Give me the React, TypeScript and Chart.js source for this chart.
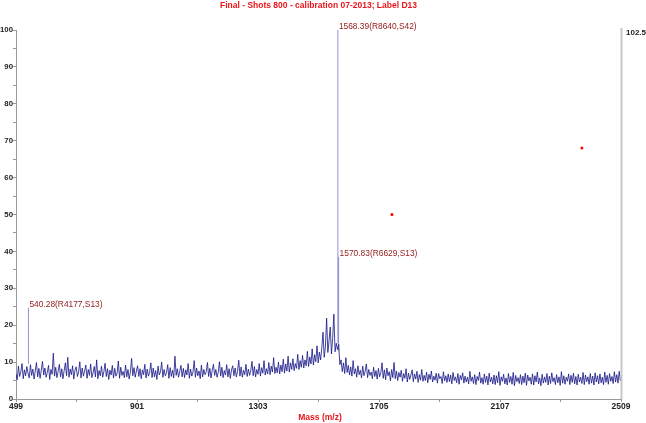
import React, { useEffect, useRef } from "react";
import { Chart, registerables } from "chart.js";

Chart.register(...registerables);

const TITLE = "Final - Shots 800 - calibration 07-2013; Label D13";
const X_TITLE = "Mass (m/z)";
const X_MIN = 499;
const X_MAX = 2509;
const X_TICK_STEP = 201;
const X_LABEL_STEP = 402;
const Y_MAX = 100;
const RIGHT_LABEL = "102.5";

const MASS_START = 499;
const MASS_STEP = 4;
const INTENSITY = [
  6.8, 5.2, 8.9, 6.1, 7.4, 9.6, 5.5, 7.9, 6.3, 8.8, 7.0, 5.7, 9.3, 6.4, 8.1, 5.4, 7.6, 9.9, 6.0, 8.3,
  5.6, 7.8, 10.2, 6.5, 8.4, 5.9, 7.2, 9.1, 5.3, 8.0, 6.7, 12.4, 6.2, 8.6, 5.8, 7.5, 9.4, 6.0, 8.2, 5.5,
  7.7, 9.8, 6.3, 11.3, 5.9, 8.1, 6.6, 9.0, 5.4, 7.9, 8.7, 6.1, 7.3, 10.1, 5.7, 8.4, 6.2, 7.6, 9.2, 5.6,
  8.0, 6.4, 9.5, 5.8, 7.1, 8.8, 6.0, 10.6, 5.5, 7.7, 6.3, 8.9, 5.9, 7.4, 9.7, 6.1, 8.2, 5.3, 7.8, 6.5,
  9.1, 5.7, 8.3, 6.2, 7.0, 10.3, 5.6, 8.6, 6.4, 7.5, 5.8, 9.2, 6.0, 8.0, 5.4, 7.3, 11.0, 6.3, 8.5, 5.9,
  7.6, 9.0, 6.1, 8.2, 5.5, 7.9, 6.6, 9.4, 5.7, 8.1, 6.2, 7.2, 9.8, 5.8, 8.4, 6.0, 7.7, 5.3, 8.9, 6.5,
  7.4, 10.0, 5.9, 8.0, 6.3, 7.1, 9.3, 5.6, 8.5, 6.1, 7.8, 5.7, 11.6, 6.4, 8.2, 5.9, 7.5, 9.1, 6.0, 8.3,
  5.8, 7.9, 6.5, 9.6, 5.6, 8.1, 6.2, 7.3, 10.4, 5.9, 8.4, 6.3, 7.6, 5.5, 9.2, 6.0, 8.0, 6.6, 7.4, 9.9,
  6.1, 8.3, 5.7, 7.8, 9.4, 6.4, 8.0, 5.9, 7.2, 10.1, 6.2, 8.6, 5.8, 7.7, 6.5, 9.3, 6.0, 8.2, 5.6, 7.9,
  9.0, 6.3, 8.4, 6.0, 7.5, 10.5, 6.2, 8.7, 5.9, 7.8, 6.6, 9.4, 6.1, 8.1, 6.4, 7.6, 10.2, 6.3, 8.8, 6.0,
  8.0, 6.7, 9.6, 6.2, 8.5, 7.0, 10.4, 6.5, 8.2, 6.8, 9.9, 6.6, 8.9, 7.3, 11.2, 6.9, 8.6, 7.1, 10.0, 6.8,
  9.2, 7.4, 10.8, 7.0, 9.5, 7.6, 11.6, 7.3, 9.8, 8.0, 10.9, 7.7, 9.6, 8.3, 12.1, 8.0, 10.4, 8.6, 11.8, 8.4,
  10.6, 9.0, 12.9, 8.8, 11.4, 9.5, 13.6, 9.2, 12.0, 10.1, 14.4, 9.8, 12.7, 10.6, 13.8, 18.1, 11.3, 14.2, 21.9, 12.6,
  15.8, 19.5, 12.2, 16.4, 23.0, 12.8, 15.1, 13.4, 14.8, 9.3, 10.6, 7.4, 9.8, 6.9, 11.2, 7.2, 9.1, 6.5, 8.7, 6.2,
  10.4, 6.8, 8.2, 5.9, 9.0, 6.6, 7.8, 5.7, 8.9, 6.3, 7.5, 9.5, 5.8, 8.0, 6.4, 7.3, 5.5, 8.6, 6.1, 7.7,
  5.4, 8.3, 6.0, 7.1, 9.8, 5.6, 7.9, 5.2, 8.4, 6.3, 7.4, 4.9, 8.0, 5.8, 9.9, 5.5, 7.6, 5.0, 7.2, 5.9,
  7.8, 4.8, 6.9, 5.6, 8.2, 4.6, 7.0, 5.3, 6.5, 7.9, 4.7, 6.8, 5.4, 7.5, 4.5, 6.6, 5.1, 8.0, 4.8, 6.4,
  5.0, 7.3, 4.4, 6.7, 5.3, 7.6, 4.6, 6.2, 5.1, 7.0, 4.3, 6.9, 5.5, 6.1, 4.2, 7.4, 4.9, 6.3, 4.5, 6.8,
  4.7, 6.5, 4.1, 7.2, 5.0, 6.0, 4.4, 6.9, 4.0, 6.4, 5.2, 7.1, 4.3, 6.2, 4.6, 5.9, 4.1, 7.5, 4.8, 6.0,
  4.2, 6.6, 3.9, 6.1, 5.0, 7.3, 4.3, 5.8, 4.0, 6.8, 4.5, 6.2, 3.8, 7.0, 4.6, 5.9, 4.1, 6.5, 3.9, 6.3,
  4.4, 7.4, 3.7, 6.0, 4.8, 6.7, 4.1, 5.7, 3.8, 6.9, 4.5, 6.1, 4.0, 7.2, 3.6, 6.4, 4.7, 5.8, 4.2, 6.6,
  3.9, 6.2, 4.4, 7.0, 3.7, 6.5, 4.9, 5.9, 4.0, 6.8, 3.8, 6.3, 4.6, 7.3, 4.1, 5.7, 3.6, 6.7, 4.3, 6.0,
  4.5, 6.9, 3.8, 6.2, 4.2, 7.1, 4.7, 5.8, 3.9, 6.6, 4.4, 6.0, 3.7, 7.4, 4.3, 6.3, 4.0, 5.9, 4.8, 6.8,
  3.9, 6.4, 4.5, 7.0, 4.1, 6.1, 3.8, 6.7, 4.6, 5.9, 4.2, 7.2, 3.9, 6.5, 4.7, 6.0, 4.0, 6.9, 4.3, 6.2,
  3.8, 7.1, 4.6, 6.3, 4.1, 6.8, 4.4, 5.9, 3.9, 7.3, 4.5, 6.4, 4.0, 6.9, 4.8, 6.1, 4.2, 7.4, 4.6, 6.6,
  4.3, 7.5, 4.9,
];

const PEAK_MASS = [540.28, 1568.39, 1570.83];
const PEAK_BASE = [9.5, 15, 13];
const PEAK_TOP = [24.7, 100, 38.5];
const PEAK_LABELS = ["540.28(R4177,S13)", "1568.39(R8640,S42)", "1570.83(R6629,S13)"];

const MARK_MASS = [1748, 2379];
const MARK_INTENSITY = [50, 68];

const FONT = "'Liberation Sans', Arial, sans-serif";

export default function App() {
  const ref = useRef<HTMLCanvasElement | null>(null);

  useEffect(() => {
    if (!ref.current) return;
    const spectrum = INTENSITY.map((y, i) => ({ x: MASS_START + i * MASS_STEP, y }));
    const sticks: { x: number; y: number | null }[] = [];
    PEAK_MASS.forEach((m, i) => {
      sticks.push({ x: m, y: PEAK_BASE[i] });
      sticks.push({ x: m, y: PEAK_TOP[i] });
      sticks.push({ x: m, y: null });
    });
    const marks = MARK_MASS.map((m, i) => ({ x: m, y: MARK_INTENSITY[i] }));

    const overlay = {
      id: "overlay",
      afterDraw(chart: any) {
        const ctx = chart.ctx;
        const ca = chart.chartArea;
        const xs = chart.scales.x;
        const ys = chart.scales.y;
        ctx.save();
        ctx.fillStyle = "#e8161b";
        ctx.font = `bold 8.5px ${FONT}`;
        ctx.textAlign = "center";
        ctx.textBaseline = "middle";
        ctx.fillText(TITLE, 318.5, 5.5);
        ctx.fillText(X_TITLE, 320, 418);
        ctx.strokeStyle = "#c8c8c8";
        ctx.lineWidth = 2;
        ctx.beginPath();
        ctx.moveTo(ca.right + 0.5, ca.top - 2);
        ctx.lineTo(ca.right + 0.5, ca.bottom);
        ctx.stroke();
        ctx.fillStyle = "#222";
        ctx.font = `bold 8px ${FONT}`;
        ctx.textAlign = "left";
        ctx.fillText(RIGHT_LABEL, ca.right + 5, ca.top + 3);
        ctx.fillStyle = "#962020";
        ctx.font = `8.4px ${FONT}`;
        PEAK_MASS.forEach((m, i) => {
          const px = xs.getPixelForValue(m) + 1;
          const py = ys.getPixelForValue(PEAK_TOP[i]) - 3;
          ctx.fillText(PEAK_LABELS[i], px, py);
        });
        ctx.restore();
      },
    };

    const chart = new Chart(ref.current, {
      type: "line",
      data: {
        datasets: [
          {
            data: spectrum,
            borderColor: "rgba(22,22,135,0.9)",
            borderWidth: 0.9,
            pointRadius: 0,
            tension: 0,
          },
          {
            data: sticks,
            borderColor: "rgba(110,110,200,0.75)",
            borderWidth: 1,
            pointRadius: 0,
            spanGaps: false,
          },
          {
            data: marks,
            showLine: false,
            pointRadius: 1.5,
            pointBackgroundColor: "#ff0000",
            pointBorderColor: "#ff0000",
            pointBorderWidth: 0,
          },
        ] as any,
      },
      options: {
        responsive: false,
        animation: false,
        layout: { padding: { top: 30, right: 25, left: 0, bottom: 0 } },
        plugins: { legend: { display: false }, tooltip: { enabled: false }, title: { display: false } },
        scales: {
          x: {
            type: "linear",
            min: X_MIN,
            max: X_MAX,
            afterBuildTicks(scale: any) {
              const t = [];
              for (let v = X_MIN; v <= X_MAX; v += X_TICK_STEP) t.push({ value: v });
              scale.ticks = t;
            },
            afterFit(scale: any) {
              scale.height = 24;
            },
            ticks: {
              autoSkip: false,
              maxRotation: 0,
              padding: 0,
              color: "#222",
              font: { family: FONT, size: 8.5, weight: "bold" },
              callback: (v: any) => ((Number(v) - X_MIN) % X_LABEL_STEP === 0 ? String(v) : ""),
            },
            grid: { display: true, drawOnChartArea: false, tickLength: 3, color: "#999" },
            border: { color: "#999", width: 1 },
          },
          y: {
            min: 0,
            max: Y_MAX,
            afterFit(scale: any) {
              scale.width = 16;
            },
            ticks: {
              stepSize: 5,
              padding: 0,
              color: "#222",
              font: { family: FONT, size: 7.8, weight: "bold" },
              callback: (v: any) => (Number(v) % 10 === 0 ? String(v) : ""),
            },
            grid: { display: true, drawOnChartArea: false, tickLength: 3, color: "#999" },
            border: { color: "#999", width: 1 },
          },
        },
      } as any,
      plugins: [overlay],
    });
    return () => chart.destroy();
  }, []);

  return (
    <div style={{ position: "fixed", left: 0, top: 0, width: 646, height: 423, background: "#fff" }}>
      <canvas ref={ref} width={646} height={423} style={{ display: "block" }} />
    </div>
  );
}
